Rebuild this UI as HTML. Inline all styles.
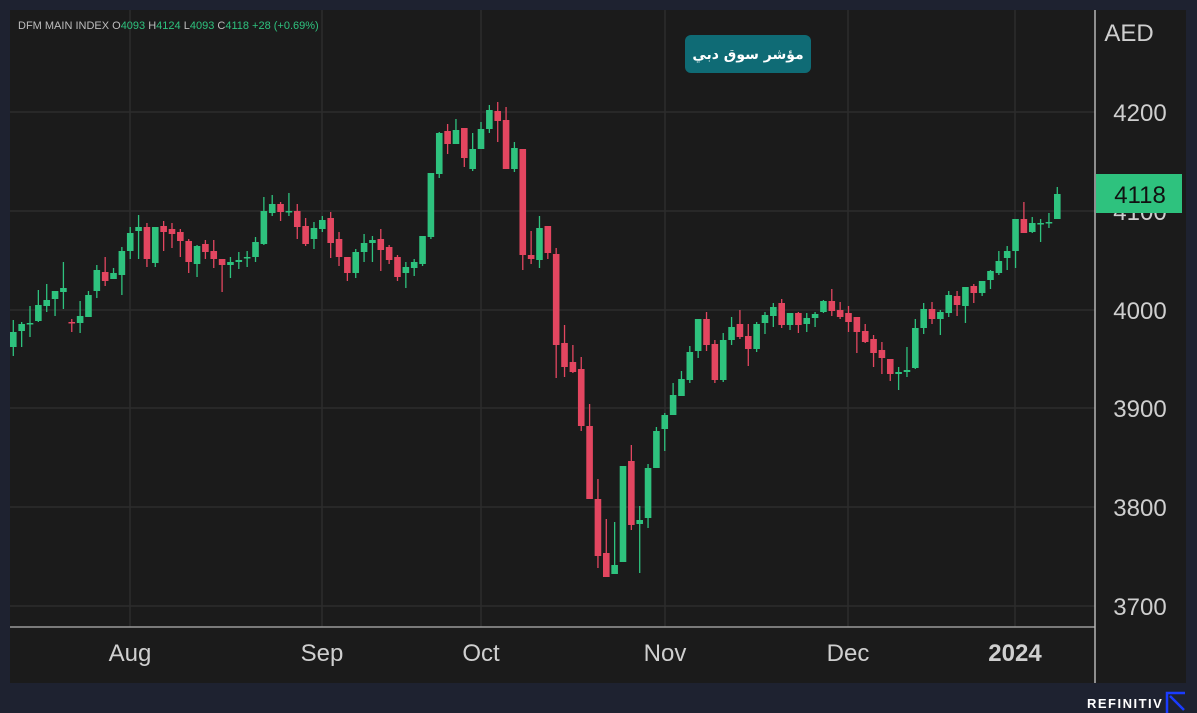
<!DOCTYPE html>
<html><head><meta charset="utf-8"><style>
html,body{margin:0;padding:0;background:#1e2230;width:1197px;height:713px;overflow:hidden}
svg{display:block}
</style></head><body>
<svg id="s" width="1197" height="713" xmlns="http://www.w3.org/2000/svg" font-family="Liberation Sans, sans-serif">
<rect x="0" y="0" width="1197" height="713" fill="#1e2230"/>
<rect x="10" y="10" width="1176" height="673" fill="#1b1b1b"/>
<g stroke="#2c2c2c" stroke-width="1.5">
<line x1="10" y1="112" x2="1095" y2="112"/><line x1="10" y1="211" x2="1095" y2="211"/>
<line x1="10" y1="310" x2="1095" y2="310"/><line x1="10" y1="408" x2="1095" y2="408"/>
<line x1="10" y1="507" x2="1095" y2="507"/><line x1="10" y1="606" x2="1095" y2="606"/>
<line x1="130" y1="10" x2="130" y2="627"/><line x1="322" y1="10" x2="322" y2="627"/>
<line x1="481" y1="10" x2="481" y2="627"/><line x1="665" y1="10" x2="665" y2="627"/>
<line x1="848" y1="10" x2="848" y2="627"/><line x1="1015" y1="10" x2="1015" y2="627"/>
</g>
<line x1="10" y1="627" x2="1095" y2="627" stroke="#9a9a9a" stroke-width="1.5"/>
<line x1="1095" y1="10" x2="1095" y2="683" stroke="#b5b5b5" stroke-width="1.5"/>
<g id="c"></g>
<text x="18" y="29" font-size="11" fill="#bdbdbd">DFM MAIN INDEX <tspan fill="#bdbdbd"> O</tspan><tspan fill="#2ec27e">4093</tspan><tspan fill="#bdbdbd">  H</tspan><tspan fill="#2ec27e">4124</tspan><tspan fill="#bdbdbd">  L</tspan><tspan fill="#2ec27e">4093</tspan><tspan fill="#bdbdbd">  C</tspan><tspan fill="#2ec27e">4118  +28 (+0.69%)</tspan></text>
<g font-size="24" fill="#cfcfcf" text-anchor="middle">
<text x="1129" y="41">AED</text>
<text x="1140" y="121">4200</text><text x="1140" y="220">4100</text>
<text x="1140" y="319">4000</text><text x="1140" y="417">3900</text>
<text x="1140" y="516">3800</text><text x="1140" y="615">3700</text>
<text x="130" y="661">Aug</text><text x="322" y="661">Sep</text><text x="481" y="661">Oct</text>
<text x="665" y="661">Nov</text><text x="848" y="661">Dec</text>
<text x="1015" y="661" font-weight="bold">2024</text>
</g>
<rect x="1096" y="174" width="86" height="39" fill="#2ec27e"/>
<text x="1140" y="203" font-size="24" fill="#111" text-anchor="middle">4118</text>
<rect x="685" y="35" width="126" height="38" rx="6" fill="#0f6b75"/>
<text x="748" y="59" font-size="14" font-weight="bold" fill="#fff" text-anchor="middle" font-family="DejaVu Sans, sans-serif">مؤشر سوق دبي</text>
<text x="1087" y="708" font-size="13" font-weight="bold" fill="#fff" letter-spacing="1.5">REFINITIV</text>
<path d="M1167 713 V693 H1185 M1170 696 L1184 710" stroke="#1a3cff" stroke-width="2.5" fill="none"/>
</svg>
<script>
var d=[
[347,332,320,356],[331,324,322,347],[324,323,306,337],[321,305,290,322],[306,300,284,312],[299,291,291,316],[292,288,262,309],[322,323,319,332],[323,316,301,333],[317,295,291,317],
[291,270,265,298],[272,281,257,286],[279,273,268,279],[275,251,247,295],[251,233,227,259],[231,227,215,259],[227,259,223,267],[263,227,227,267],[226,232,221,251],[229,234,223,248],
[232,241,229,257],[241,262,239,273],[264,246,245,277],[244,252,240,259],[251,259,240,268],[259,265,259,292],[265,262,257,278],[262,260,252,269],[258,257,251,267],[257,242,237,262],
[244,211,197,245],[213,204,195,216],[204,212,202,221],[212,211,193,216],[211,227,204,239],[226,244,218,246],[239,228,222,249],[229,220,216,232],[218,243,212,258],[239,257,232,266],
[257,273,257,281],[273,252,249,278],[252,243,234,262],[243,240,236,262],[239,250,229,271],[247,260,245,264],[257,277,255,281],[273,267,262,288],[268,262,259,276],[264,236,236,266],
[237,173,173,239],[174,133,132,178],[131,144,124,154],[144,130,119,144],[128,158,128,167],[169,149,133,171],[149,129,122,149],[129,110,105,133],[111,121,102,142],[120,169,107,169],
[169,148,142,172],[149,255,149,270],[255,259,231,264],[260,228,216,268],[226,253,226,259],[254,345,248,378],[343,367,325,377],[362,372,345,373],[369,426,357,431],[426,499,404,499],
[499,556,479,568],[553,577,519,577],[574,565,522,574],[562,466,466,562],[461,525,445,530],[524,520,506,573],[518,468,464,528],[468,431,427,468],[429,415,413,451],[415,395,383,415],
[396,379,371,396],[380,352,346,383],[351,319,319,358],[319,345,312,351],[344,380,340,383],[380,340,333,382],[340,327,317,345],[324,337,310,339],[336,349,324,366],[349,324,322,352],
[323,315,312,334],[316,307,303,327],[303,325,299,328],[325,313,313,330],[313,325,312,333],[324,318,313,332],[318,314,312,327],[312,301,300,313],[301,311,289,316],[310,317,302,319],
[313,322,306,332],[317,332,317,353],[331,342,324,343],[339,353,335,367],[350,358,342,374],[359,374,359,381],[374,372,367,390],[372,370,347,377],[368,328,319,369],[328,309,303,334],
[309,319,302,324],[319,312,310,335],[313,295,291,317],[296,305,291,316],[306,287,287,323],[286,293,284,303],[293,281,281,296],[280,271,270,289],[273,261,251,275],[258,251,246,270],
[251,219,219,268],[219,233,202,233],[232,223,217,233],[224,223,219,242],[223,222,213,228],[219,194,187,219]];
var g=document.getElementById('c'),h='';
d.forEach(function(c,i){var x=13.3+i*8.352,o=c[0],cl=c[1],up=cl<=o,col=up?'#2ec27e':'#e34660';
var t=Math.min(o,cl),b=Math.max(o,cl);if(b-t<1.5)b=t+1.5;
h+='<line x1="'+x+'" x2="'+x+'" y1="'+c[2]+'" y2="'+c[3]+'" stroke="'+col+'" stroke-width="1.3"/>';
h+='<rect x="'+(x-3.3)+'" y="'+t+'" width="6.6" height="'+(b-t)+'" fill="'+col+'"/>';});
g.innerHTML=h;
</script>
</body></html>
